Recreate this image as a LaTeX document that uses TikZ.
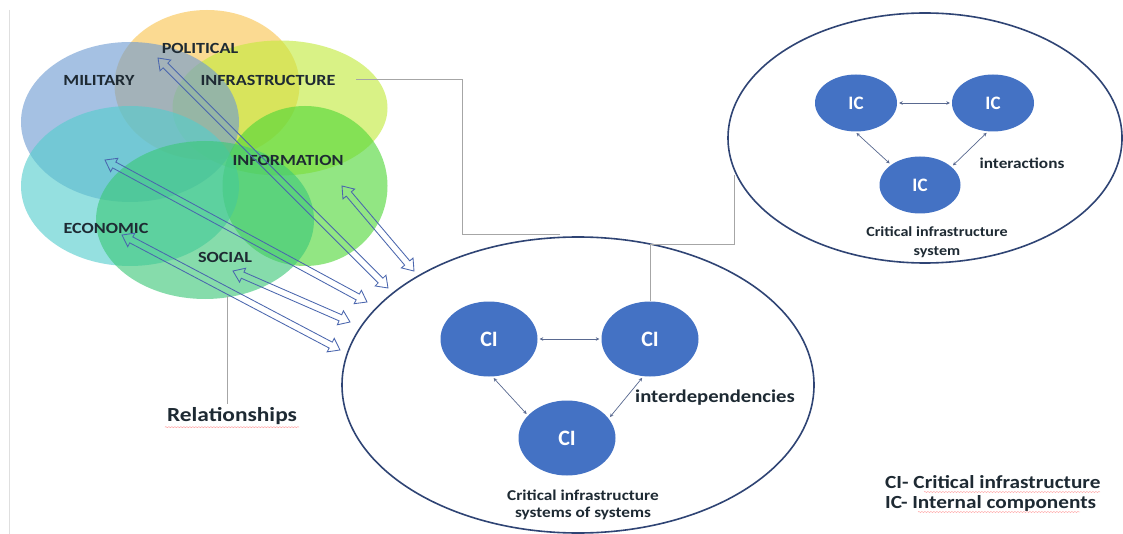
\documentclass[tikz,border=0pt]{standalone}
\usepackage{fontspec}
\setmainfont{Carlito}
\usetikzlibrary{shapes.geometric,shapes.arrows,arrows.meta,calc,decorations.pathmorphing}
\definecolor{polc}{RGB}{250,196,80}
\definecolor{milc}{RGB}{110,155,210}
\definecolor{infc}{RGB}{195,235,60}
\definecolor{inoc}{RGB}{80,215,55}
\definecolor{ecoc}{RGB}{85,205,205}
\definecolor{socc}{RGB}{60,200,120}
\definecolor{ciblue}{HTML}{4472C4}
\definecolor{rim}{HTML}{2F4474}
\definecolor{arrowc}{HTML}{4A66AE}
\definecolor{txtc}{HTML}{1E2A33}
\newcommand{\hollowarrow}[3]{\path let \p1=($(#3)-(#2)$), \n1={atan2(\y1,\x1)}, \n2={veclen(\x1,\y1)} in node[harrow, rotate=\n1, minimum height=\n2] (#1) at ($(#2)!0.5!(#3)$) {};}
\begin{document}
\begin{tikzpicture}[x=1pt,y=-1pt,
  blob/.style={ellipse, fill opacity=0.62, draw=none, inner sep=0pt},
  blab/.style={font=\fontsize{15.5}{16}\selectfont\bfseries, text=txtc, inner sep=1pt, xscale=1.17},
  cinode/.style={ellipse, fill=ciblue, draw=none, inner sep=0pt, text=white, font=\fontsize{22}{22}\selectfont\bfseries},
  icnode/.style={ellipse, fill=ciblue, draw=none, inner sep=0pt, text=white, font=\fontsize{19}{19}\selectfont\bfseries},
  sysring/.style={ellipse, draw=rim, line width=1.6pt, inner sep=0pt},
  conn/.style={draw=gray!70, line width=1pt},
  small/.style={draw=rim!80, line width=0.7pt, {Stealth[length=3.5pt,width=3.5pt]}-{Stealth[length=3.5pt,width=3.5pt]}, shorten <=2pt, shorten >=2pt},
  harrow/.style={double arrow, draw=arrowc, line width=0.85pt, fill=none, inner sep=2.9pt, double arrow head extend=4.3pt, double arrow tip angle=72, minimum width=14pt},
  captxt/.style={font=\fontsize{15}{17}\selectfont\bfseries, text=txtc, align=center, inner sep=1pt, xscale=1.15},
  spell/.style={draw=red!40, line width=0.45pt, decorate, decoration={snake, amplitude=0.5pt, segment length=3pt}}
]
\useasboundingbox (0,0) rectangle (1123,534);
\fill[white] (0,0) rectangle (1123,534);
\draw[gray!25, line width=1pt] (9,10) -- (9,534);

% blobs
\node[blob, fill=polc, minimum width=185pt, minimum height=150pt] (political) at (207,85) {};
\node[blob, fill=infc, minimum width=215pt, minimum height=135pt] (infra) at (280,108) {};
\node[blob, fill=milc, minimum width=218pt, minimum height=160pt] (military) at (130,122) {};
\node[blob, fill=inoc, minimum width=165pt, minimum height=160pt] (information) at (305,186) {};
\node[blob, fill=ecoc, minimum width=218pt, minimum height=160pt] (economic) at (130,186) {};
\node[blob, fill=socc, minimum width=218pt, minimum height=158pt] (social) at (205,220) {};

% blob labels
\node[blab] (lpol) at (200,48) {POLITICAL};
\node[blab] (lmil) at (99,80) {MILITARY};
\node[blab] (linf) at (268,80) {INFRASTRUCTURE};
\node[blab] (linfo) at (288,160) {INFORMATION};
\node[blab] (leco) at (106,228) {ECONOMIC};
\node[blab] (lsoc) at (225,257) {SOCIAL};

% system rings
\node[sysring, minimum width=472pt, minimum height=296pt] (cisys) at (578,385) {};
\node[sysring, minimum width=394pt, minimum height=250pt] (icsys) at (925,138) {};

% connectors
\coordinate (k0) at (356,80);
\coordinate (k1) at (462,80);
\coordinate (k2) at (462,235);
\coordinate (k3) at (560,235);
\coordinate (k4) at (734,245);
\coordinate (k5) at (734,175);
\draw[conn] (k0) -- (k1) -- (k2) -- (k3);

% CI nodes
\node[cinode, minimum width=97pt, minimum height=75pt] (ci1) at (489,339) {CI};
\node[cinode, minimum width=97pt, minimum height=75pt] (ci2) at (650,339) {CI};
\node[cinode, minimum width=97pt, minimum height=75pt] (ci3) at (567,438) {CI};
\draw[conn] (ci2.north) |- (k4) -- (k5);
\draw[small] (ci1) -- (ci2);
\draw[small] (ci3.150) -- (ci1.-85);
\draw[small] (ci3.25) -- (ci2.-100);
\node[font=\fontsize{18}{18}\selectfont\bfseries, text=txtc, xscale=1.15] (interdep) at (715,398) {interdependencies};
\node[captxt] (cicap) at (583,505) {Critical infrastructure\\systems of systems};

% IC nodes
\node[icnode, minimum width=82pt, minimum height=57pt] (ic1) at (856,103) {IC};
\node[icnode, minimum width=82pt, minimum height=57pt] (ic2) at (993,103) {IC};
\node[icnode, minimum width=81pt, minimum height=57pt] (ic3) at (920,185) {IC};
\draw[small] (ic1) -- (ic2);
\draw[small] (ic3.145) -- (ic1.-92);
\draw[small] (ic3.30) -- (ic2.-100);
\node[font=\fontsize{15}{15}\selectfont\bfseries, text=txtc, xscale=1.15] (interact) at (1022,163) {interactions};
\node[font=\fontsize{14}{19}\selectfont\bfseries, text=txtc, align=center, xscale=1.15] (iccap) at (937,242) {Critical infrastructure\\system};

% relationships
\node[font=\fontsize{20}{20}\selectfont\bfseries, text=txtc, xscale=1.17] (rel) at (232,416) {Relationships};
\draw[conn] (rel.north -| 227,0) -- (227,296);
\draw[spell] ([xshift=2pt,yshift=1pt]rel.south west) -- ([xshift=-2pt,yshift=1pt]rel.south east);

% hollow double arrows
\coordinate (p1) at (158,58);   \coordinate (q1) at (388,288);
\coordinate (p2) at (105,160);  \coordinate (q2) at (367,302);
\coordinate (p3) at (122,235);  \coordinate (q3) at (340,350);
\coordinate (p4) at (233,271);  \coordinate (q4) at (350,322);
\coordinate (p5) at (342,186);  \coordinate (q5) at (414,271);
\hollowarrow{ar1}{p1}{q1}
\hollowarrow{ar2}{p2}{q2}
\hollowarrow{ar3}{p3}{q3}
\hollowarrow{ar4}{p4}{q4}
\hollowarrow{ar5}{p5}{q5}

% legend
\node[font=\fontsize{18.5}{20}\selectfont\bfseries, text=txtc, align=left, anchor=west, xscale=1.15, inner sep=0pt] (legend) at (885,493) {CI- Critical infrastructure\\IC- Internal components};
\draw[spell] (924,492) -- (1100,492);
\draw[spell] (918,512) -- (1080,512);
\end{tikzpicture}
\end{document}
